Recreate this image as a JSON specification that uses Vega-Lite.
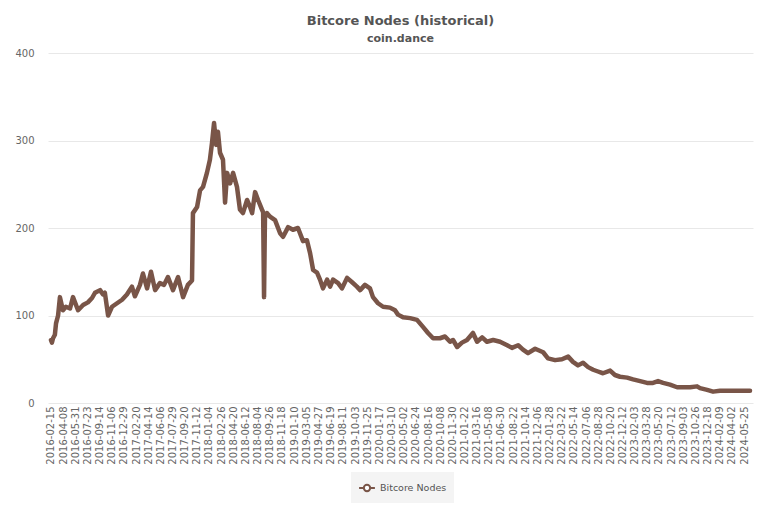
{
  "$schema": "https://vega.github.io/schema/vega-lite/v6.json",
  "width": 705,
  "height": 350,
  "autosize": {"type": "none"},
  "padding": {"left": 48, "top": 53, "right": 15, "bottom": 109},
  "title": {
    "text": "Bitcore Nodes (historical)",
    "subtitle": "coin.dance",
    "fontSize": 13,
    "fontWeight": "bold",
    "subtitleFontSize": 11,
    "subtitleFontWeight": "bold",
    "color": "#555555",
    "subtitleColor": "#555555",
    "anchor": "middle",
    "offset": 4,
    "subtitlePadding": 5,
    "font": "DejaVu Sans",
    "subtitleFont": "DejaVu Sans"
  },
  "config": {
    "view": {"stroke": null},
    "font": "DejaVu Sans"
  },
  "data": {
    "values": [
      {"date": "2016-02-15", "nodes": 72, "series": "Bitcore Nodes"},
      {"date": "2016-02-19", "nodes": 69, "series": "Bitcore Nodes"},
      {"date": "2016-02-24", "nodes": 74, "series": "Bitcore Nodes"},
      {"date": "2016-03-03", "nodes": 78, "series": "Bitcore Nodes"},
      {"date": "2016-03-08", "nodes": 91, "series": "Bitcore Nodes"},
      {"date": "2016-03-17", "nodes": 100, "series": "Bitcore Nodes"},
      {"date": "2016-03-25", "nodes": 121, "series": "Bitcore Nodes"},
      {"date": "2016-04-07", "nodes": 106, "series": "Bitcore Nodes"},
      {"date": "2016-04-20", "nodes": 110, "series": "Bitcore Nodes"},
      {"date": "2016-05-08", "nodes": 108, "series": "Bitcore Nodes"},
      {"date": "2016-05-21", "nodes": 121, "series": "Bitcore Nodes"},
      {"date": "2016-06-12", "nodes": 106, "series": "Bitcore Nodes"},
      {"date": "2016-07-04", "nodes": 112, "series": "Bitcore Nodes"},
      {"date": "2016-07-25", "nodes": 115, "series": "Bitcore Nodes"},
      {"date": "2016-08-12", "nodes": 120, "series": "Bitcore Nodes"},
      {"date": "2016-08-25", "nodes": 126, "series": "Bitcore Nodes"},
      {"date": "2016-09-16", "nodes": 129, "series": "Bitcore Nodes"},
      {"date": "2016-09-29", "nodes": 124, "series": "Bitcore Nodes"},
      {"date": "2016-10-07", "nodes": 126, "series": "Bitcore Nodes"},
      {"date": "2016-10-21", "nodes": 100, "series": "Bitcore Nodes"},
      {"date": "2016-11-07", "nodes": 110, "series": "Bitcore Nodes"},
      {"date": "2016-11-29", "nodes": 114, "series": "Bitcore Nodes"},
      {"date": "2016-12-21", "nodes": 118, "series": "Bitcore Nodes"},
      {"date": "2017-01-11", "nodes": 124, "series": "Bitcore Nodes"},
      {"date": "2017-02-02", "nodes": 133, "series": "Bitcore Nodes"},
      {"date": "2017-02-15", "nodes": 122, "series": "Bitcore Nodes"},
      {"date": "2017-03-09", "nodes": 135, "series": "Bitcore Nodes"},
      {"date": "2017-03-22", "nodes": 148, "series": "Bitcore Nodes"},
      {"date": "2017-04-09", "nodes": 131, "series": "Bitcore Nodes"},
      {"date": "2017-04-26", "nodes": 150, "series": "Bitcore Nodes"},
      {"date": "2017-05-14", "nodes": 129, "series": "Bitcore Nodes"},
      {"date": "2017-06-04", "nodes": 137, "series": "Bitcore Nodes"},
      {"date": "2017-06-22", "nodes": 135, "series": "Bitcore Nodes"},
      {"date": "2017-07-09", "nodes": 144, "series": "Bitcore Nodes"},
      {"date": "2017-07-31", "nodes": 129, "series": "Bitcore Nodes"},
      {"date": "2017-08-22", "nodes": 144, "series": "Bitcore Nodes"},
      {"date": "2017-09-13", "nodes": 121, "series": "Bitcore Nodes"},
      {"date": "2017-10-04", "nodes": 135, "series": "Bitcore Nodes"},
      {"date": "2017-10-22", "nodes": 140, "series": "Bitcore Nodes"},
      {"date": "2017-10-26", "nodes": 217, "series": "Bitcore Nodes"},
      {"date": "2017-11-13", "nodes": 224, "series": "Bitcore Nodes"},
      {"date": "2017-11-26", "nodes": 243, "series": "Bitcore Nodes"},
      {"date": "2017-12-09", "nodes": 247, "series": "Bitcore Nodes"},
      {"date": "2017-12-26", "nodes": 263, "series": "Bitcore Nodes"},
      {"date": "2018-01-08", "nodes": 278, "series": "Bitcore Nodes"},
      {"date": "2018-01-17", "nodes": 297, "series": "Bitcore Nodes"},
      {"date": "2018-01-26", "nodes": 320, "series": "Bitcore Nodes"},
      {"date": "2018-02-04", "nodes": 295, "series": "Bitcore Nodes"},
      {"date": "2018-02-12", "nodes": 310, "series": "Bitcore Nodes"},
      {"date": "2018-02-21", "nodes": 286, "series": "Bitcore Nodes"},
      {"date": "2018-03-06", "nodes": 278, "series": "Bitcore Nodes"},
      {"date": "2018-03-15", "nodes": 229, "series": "Bitcore Nodes"},
      {"date": "2018-03-24", "nodes": 263, "series": "Bitcore Nodes"},
      {"date": "2018-04-06", "nodes": 251, "series": "Bitcore Nodes"},
      {"date": "2018-04-19", "nodes": 263, "series": "Bitcore Nodes"},
      {"date": "2018-05-06", "nodes": 247, "series": "Bitcore Nodes"},
      {"date": "2018-05-19", "nodes": 221, "series": "Bitcore Nodes"},
      {"date": "2018-06-01", "nodes": 217, "series": "Bitcore Nodes"},
      {"date": "2018-06-19", "nodes": 232, "series": "Bitcore Nodes"},
      {"date": "2018-07-02", "nodes": 224, "series": "Bitcore Nodes"},
      {"date": "2018-07-11", "nodes": 217, "series": "Bitcore Nodes"},
      {"date": "2018-07-24", "nodes": 241, "series": "Bitcore Nodes"},
      {"date": "2018-08-06", "nodes": 232, "series": "Bitcore Nodes"},
      {"date": "2018-08-23", "nodes": 221, "series": "Bitcore Nodes"},
      {"date": "2018-08-28", "nodes": 218, "series": "Bitcore Nodes"},
      {"date": "2018-09-01", "nodes": 121, "series": "Bitcore Nodes"},
      {"date": "2018-09-05", "nodes": 212, "series": "Bitcore Nodes"},
      {"date": "2018-09-14", "nodes": 217, "series": "Bitcore Nodes"},
      {"date": "2018-09-27", "nodes": 213, "series": "Bitcore Nodes"},
      {"date": "2018-10-19", "nodes": 209, "series": "Bitcore Nodes"},
      {"date": "2018-11-10", "nodes": 194, "series": "Bitcore Nodes"},
      {"date": "2018-11-23", "nodes": 190, "series": "Bitcore Nodes"},
      {"date": "2018-12-15", "nodes": 201, "series": "Bitcore Nodes"},
      {"date": "2019-01-05", "nodes": 198, "series": "Bitcore Nodes"},
      {"date": "2019-01-27", "nodes": 200, "series": "Bitcore Nodes"},
      {"date": "2019-02-18", "nodes": 185, "series": "Bitcore Nodes"},
      {"date": "2019-03-07", "nodes": 186, "series": "Bitcore Nodes"},
      {"date": "2019-03-21", "nodes": 171, "series": "Bitcore Nodes"},
      {"date": "2019-04-03", "nodes": 152, "series": "Bitcore Nodes"},
      {"date": "2019-04-20", "nodes": 149, "series": "Bitcore Nodes"},
      {"date": "2019-05-03", "nodes": 141, "series": "Bitcore Nodes"},
      {"date": "2019-05-16", "nodes": 131, "series": "Bitcore Nodes"},
      {"date": "2019-06-03", "nodes": 141, "series": "Bitcore Nodes"},
      {"date": "2019-06-16", "nodes": 133, "series": "Bitcore Nodes"},
      {"date": "2019-06-29", "nodes": 141, "series": "Bitcore Nodes"},
      {"date": "2019-07-21", "nodes": 137, "series": "Bitcore Nodes"},
      {"date": "2019-08-07", "nodes": 131, "series": "Bitcore Nodes"},
      {"date": "2019-08-29", "nodes": 143, "series": "Bitcore Nodes"},
      {"date": "2019-09-20", "nodes": 138, "series": "Bitcore Nodes"},
      {"date": "2019-10-11", "nodes": 133, "series": "Bitcore Nodes"},
      {"date": "2019-10-25", "nodes": 129, "series": "Bitcore Nodes"},
      {"date": "2019-11-15", "nodes": 135, "series": "Bitcore Nodes"},
      {"date": "2019-12-07", "nodes": 131, "series": "Bitcore Nodes"},
      {"date": "2019-12-20", "nodes": 121, "series": "Bitcore Nodes"},
      {"date": "2020-01-11", "nodes": 114, "series": "Bitcore Nodes"},
      {"date": "2020-02-02", "nodes": 110, "series": "Bitcore Nodes"},
      {"date": "2020-03-03", "nodes": 109, "series": "Bitcore Nodes"},
      {"date": "2020-03-25", "nodes": 106, "series": "Bitcore Nodes"},
      {"date": "2020-04-07", "nodes": 101, "series": "Bitcore Nodes"},
      {"date": "2020-04-29", "nodes": 98, "series": "Bitcore Nodes"},
      {"date": "2020-05-30", "nodes": 97, "series": "Bitcore Nodes"},
      {"date": "2020-06-29", "nodes": 95, "series": "Bitcore Nodes"},
      {"date": "2020-07-25", "nodes": 87, "series": "Bitcore Nodes"},
      {"date": "2020-08-16", "nodes": 80, "series": "Bitcore Nodes"},
      {"date": "2020-09-07", "nodes": 74, "series": "Bitcore Nodes"},
      {"date": "2020-10-07", "nodes": 74, "series": "Bitcore Nodes"},
      {"date": "2020-10-29", "nodes": 76, "series": "Bitcore Nodes"},
      {"date": "2020-11-20", "nodes": 70, "series": "Bitcore Nodes"},
      {"date": "2020-12-03", "nodes": 72, "series": "Bitcore Nodes"},
      {"date": "2020-12-21", "nodes": 64, "series": "Bitcore Nodes"},
      {"date": "2021-01-11", "nodes": 69, "series": "Bitcore Nodes"},
      {"date": "2021-02-02", "nodes": 72, "series": "Bitcore Nodes"},
      {"date": "2021-02-28", "nodes": 80, "series": "Bitcore Nodes"},
      {"date": "2021-03-18", "nodes": 70, "series": "Bitcore Nodes"},
      {"date": "2021-04-09", "nodes": 75, "series": "Bitcore Nodes"},
      {"date": "2021-04-30", "nodes": 70, "series": "Bitcore Nodes"},
      {"date": "2021-05-27", "nodes": 72, "series": "Bitcore Nodes"},
      {"date": "2021-06-26", "nodes": 70, "series": "Bitcore Nodes"},
      {"date": "2021-07-27", "nodes": 66, "series": "Bitcore Nodes"},
      {"date": "2021-08-17", "nodes": 63, "series": "Bitcore Nodes"},
      {"date": "2021-09-13", "nodes": 66, "series": "Bitcore Nodes"},
      {"date": "2021-10-04", "nodes": 61, "series": "Bitcore Nodes"},
      {"date": "2021-10-26", "nodes": 57, "series": "Bitcore Nodes"},
      {"date": "2021-11-26", "nodes": 62, "series": "Bitcore Nodes"},
      {"date": "2021-12-31", "nodes": 58, "series": "Bitcore Nodes"},
      {"date": "2022-01-21", "nodes": 51, "series": "Bitcore Nodes"},
      {"date": "2022-02-21", "nodes": 49, "series": "Bitcore Nodes"},
      {"date": "2022-03-23", "nodes": 50, "series": "Bitcore Nodes"},
      {"date": "2022-04-19", "nodes": 53, "series": "Bitcore Nodes"},
      {"date": "2022-05-10", "nodes": 47, "series": "Bitcore Nodes"},
      {"date": "2022-06-01", "nodes": 43, "series": "Bitcore Nodes"},
      {"date": "2022-06-23", "nodes": 46, "series": "Bitcore Nodes"},
      {"date": "2022-07-15", "nodes": 41, "series": "Bitcore Nodes"},
      {"date": "2022-08-06", "nodes": 38, "series": "Bitcore Nodes"},
      {"date": "2022-08-27", "nodes": 36, "series": "Bitcore Nodes"},
      {"date": "2022-09-18", "nodes": 34, "series": "Bitcore Nodes"},
      {"date": "2022-10-19", "nodes": 37, "series": "Bitcore Nodes"},
      {"date": "2022-11-09", "nodes": 32, "series": "Bitcore Nodes"},
      {"date": "2022-12-01", "nodes": 30, "series": "Bitcore Nodes"},
      {"date": "2023-01-01", "nodes": 29, "series": "Bitcore Nodes"},
      {"date": "2023-01-27", "nodes": 27, "series": "Bitcore Nodes"},
      {"date": "2023-02-27", "nodes": 25, "series": "Bitcore Nodes"},
      {"date": "2023-03-29", "nodes": 23, "series": "Bitcore Nodes"},
      {"date": "2023-04-24", "nodes": 23, "series": "Bitcore Nodes"},
      {"date": "2023-05-16", "nodes": 25, "series": "Bitcore Nodes"},
      {"date": "2023-06-07", "nodes": 23, "series": "Bitcore Nodes"},
      {"date": "2023-07-07", "nodes": 21, "series": "Bitcore Nodes"},
      {"date": "2023-08-07", "nodes": 18, "series": "Bitcore Nodes"},
      {"date": "2023-09-02", "nodes": 18, "series": "Bitcore Nodes"},
      {"date": "2023-10-03", "nodes": 18, "series": "Bitcore Nodes"},
      {"date": "2023-11-02", "nodes": 19, "series": "Bitcore Nodes"},
      {"date": "2023-11-15", "nodes": 17, "series": "Bitcore Nodes"},
      {"date": "2023-12-16", "nodes": 15, "series": "Bitcore Nodes"},
      {"date": "2024-01-11", "nodes": 13, "series": "Bitcore Nodes"},
      {"date": "2024-02-10", "nodes": 14, "series": "Bitcore Nodes"},
      {"date": "2024-03-12", "nodes": 14, "series": "Bitcore Nodes"},
      {"date": "2024-04-25", "nodes": 14, "series": "Bitcore Nodes"},
      {"date": "2024-06-20", "nodes": 14, "series": "Bitcore Nodes"}
    ]
  },
  "mark": {"type": "line", "strokeWidth": 4.5, "strokeJoin": "round", "strokeCap": "round"},
  "encoding": {
    "x": {
      "field": "date",
      "type": "temporal",
      "scale": {
        "type": "utc",
        "domain": [
          {"year": 2016, "month": 2, "date": 2, "utc": true},
          {"year": 2024, "month": 7, "date": 3, "utc": true}
        ]
      },
      "axis": {
        "title": null,
        "grid": false,
        "domain": false,
        "ticks": false,
        "labelAngle": -90,
        "labelAlign": "right",
        "labelBaseline": "middle",
        "labelPadding": 3,
        "labelFontSize": 10,
        "labelColor": "#666666",
        "labelOverlap": false,
        "labelFlush": false,
        "format": "%Y-%m-%d",
        "values": [
          {"year": 2016, "month": 2, "date": 15, "utc": true},
          {"year": 2016, "month": 4, "date": 8, "utc": true},
          {"year": 2016, "month": 5, "date": 31, "utc": true},
          {"year": 2016, "month": 7, "date": 23, "utc": true},
          {"year": 2016, "month": 9, "date": 14, "utc": true},
          {"year": 2016, "month": 11, "date": 6, "utc": true},
          {"year": 2016, "month": 12, "date": 29, "utc": true},
          {"year": 2017, "month": 2, "date": 20, "utc": true},
          {"year": 2017, "month": 4, "date": 14, "utc": true},
          {"year": 2017, "month": 6, "date": 6, "utc": true},
          {"year": 2017, "month": 7, "date": 29, "utc": true},
          {"year": 2017, "month": 9, "date": 20, "utc": true},
          {"year": 2017, "month": 11, "date": 12, "utc": true},
          {"year": 2018, "month": 1, "date": 4, "utc": true},
          {"year": 2018, "month": 2, "date": 26, "utc": true},
          {"year": 2018, "month": 4, "date": 20, "utc": true},
          {"year": 2018, "month": 6, "date": 12, "utc": true},
          {"year": 2018, "month": 8, "date": 4, "utc": true},
          {"year": 2018, "month": 9, "date": 26, "utc": true},
          {"year": 2018, "month": 11, "date": 18, "utc": true},
          {"year": 2019, "month": 1, "date": 10, "utc": true},
          {"year": 2019, "month": 3, "date": 5, "utc": true},
          {"year": 2019, "month": 4, "date": 27, "utc": true},
          {"year": 2019, "month": 6, "date": 19, "utc": true},
          {"year": 2019, "month": 8, "date": 11, "utc": true},
          {"year": 2019, "month": 10, "date": 3, "utc": true},
          {"year": 2019, "month": 11, "date": 25, "utc": true},
          {"year": 2020, "month": 1, "date": 17, "utc": true},
          {"year": 2020, "month": 3, "date": 10, "utc": true},
          {"year": 2020, "month": 5, "date": 2, "utc": true},
          {"year": 2020, "month": 6, "date": 24, "utc": true},
          {"year": 2020, "month": 8, "date": 16, "utc": true},
          {"year": 2020, "month": 10, "date": 8, "utc": true},
          {"year": 2020, "month": 11, "date": 30, "utc": true},
          {"year": 2021, "month": 1, "date": 22, "utc": true},
          {"year": 2021, "month": 3, "date": 16, "utc": true},
          {"year": 2021, "month": 5, "date": 8, "utc": true},
          {"year": 2021, "month": 6, "date": 30, "utc": true},
          {"year": 2021, "month": 8, "date": 22, "utc": true},
          {"year": 2021, "month": 10, "date": 14, "utc": true},
          {"year": 2021, "month": 12, "date": 6, "utc": true},
          {"year": 2022, "month": 1, "date": 28, "utc": true},
          {"year": 2022, "month": 3, "date": 22, "utc": true},
          {"year": 2022, "month": 5, "date": 14, "utc": true},
          {"year": 2022, "month": 7, "date": 6, "utc": true},
          {"year": 2022, "month": 8, "date": 28, "utc": true},
          {"year": 2022, "month": 10, "date": 20, "utc": true},
          {"year": 2022, "month": 12, "date": 12, "utc": true},
          {"year": 2023, "month": 2, "date": 3, "utc": true},
          {"year": 2023, "month": 3, "date": 28, "utc": true},
          {"year": 2023, "month": 5, "date": 20, "utc": true},
          {"year": 2023, "month": 7, "date": 12, "utc": true},
          {"year": 2023, "month": 9, "date": 3, "utc": true},
          {"year": 2023, "month": 10, "date": 26, "utc": true},
          {"year": 2023, "month": 12, "date": 18, "utc": true},
          {"year": 2024, "month": 2, "date": 9, "utc": true},
          {"year": 2024, "month": 4, "date": 2, "utc": true},
          {"year": 2024, "month": 5, "date": 25, "utc": true}
        ]
      }
    },
    "y": {
      "field": "nodes",
      "type": "quantitative",
      "scale": {"domain": [0, 400], "nice": false, "zero": true},
      "axis": {
        "title": null,
        "values": [0, 100, 200, 300, 400],
        "grid": true,
        "gridColor": "#e8e8e8",
        "gridWidth": 1,
        "domain": false,
        "ticks": false,
        "labelPadding": 14,
        "labelFontSize": 10,
        "labelColor": "#666666"
      }
    },
    "color": {
      "field": "series",
      "type": "nominal",
      "scale": {"range": ["#795548"]},
      "legend": {
        "title": null,
        "orient": "none",
        "legendX": 303,
        "legendY": 419,
        "direction": "horizontal",
        "fillColor": "#f4f4f4",
        "padding": 7,
        "labelFontSize": 9.5,
        "labelColor": "#555555",
        "labelOffset": 4,
        "symbolType": "M-1,0H-0.4M0.4,0H1M-0.4,0A0.4,0.4 0 1,0 0.4,0A0.4,0.4 0 1,0 -0.4,0",
        "symbolSize": 250,
        "symbolStrokeWidth": 2,
        "symbolFillColor": "white",
        "symbolStrokeColor": "#795548",
        "encode": {
          "symbols": {
            "update": {
              "fill": {"value": "white"},
              "stroke": {"value": "#795548"},
              "strokeWidth": {"value": 2}
            }
          }
        }
      }
    }
  }
}
